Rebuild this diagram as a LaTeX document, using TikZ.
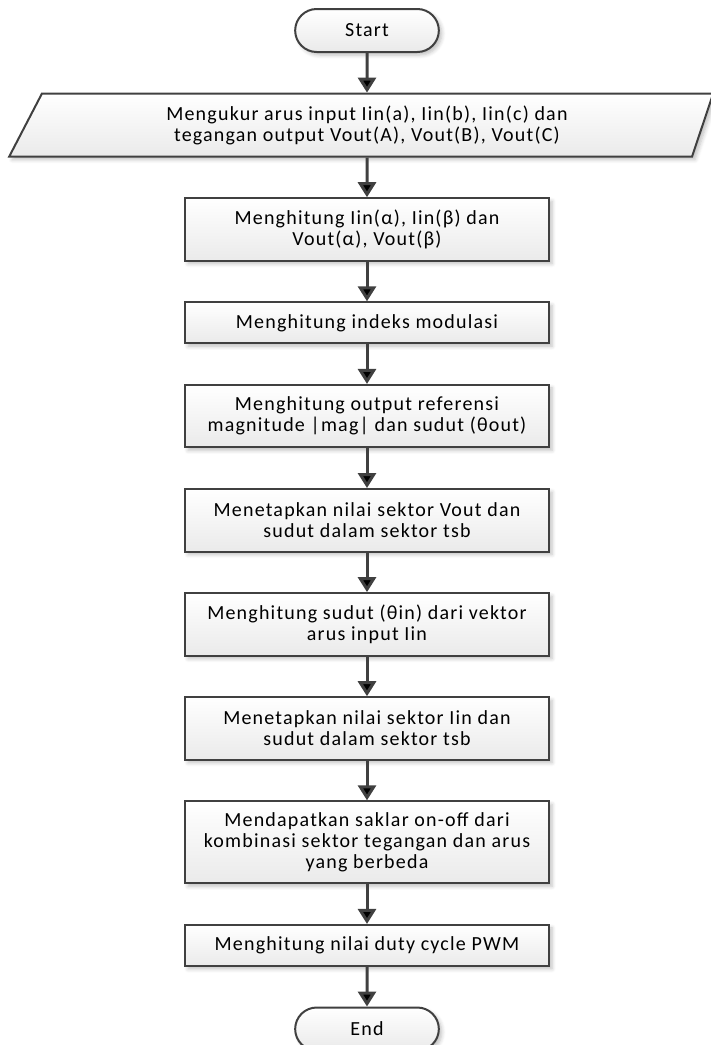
\documentclass[tikz,border=0pt]{standalone}
\usepackage{fontspec}
\setmainfont{Carlito}[LetterSpace=6]
\usetikzlibrary{positioning, arrows.meta, shapes.geometric, shapes.misc, shadows.blur}
\definecolor{garis}{HTML}{404040}
\definecolor{isi}{HTML}{EAEAEA}
\tikzset{
>={Triangle[width=9pt,length=7.5pt]}, % kepala panah yang tebal
node distance=19.8pt, % jarak antar kotak. Ubah bila perlu.
every node/.style={align=center, text=black, font=\fontsize{10}{10.5}\selectfont},
base/.style={draw=garis, line width=1pt, top color=white, bottom color=isi,
  blur shadow={shadow xshift=1.5pt, shadow yshift=-1.5pt, shadow blur steps=5, shadow opacity=25}}, % gaya dasar tiap kotak
terminal/.style={base, rounded rectangle, minimum width=78.5pt, minimum height=21.5pt},
proses/.style={base, rectangle, minimum width=182pt, minimum height=31.25pt, inner sep=2pt},
masukan/.style={base, trapezium, trapezium left angle=58, trapezium right angle=112,
  trapezium stretches body, minimum width=352pt, minimum height=31.5pt},
alur/.style={->, draw=garis, line width=1.5pt}, % panah antar kotak
}

\begin{document}
\begin{tikzpicture}
    \useasboundingbox (0,0) rectangle (355.5pt,-522.5pt);
    \node[terminal] (start) at (183.5pt,-15.25pt) {Start};
    \node[masukan, below=of start] (ukur) {Mengukur arus input Iin(a), Iin(b), Iin(c) dan\\tegangan output Vout(A), Vout(B), Vout(C)};
    \node[proses, below=of ukur] (alfabeta) {Menghitung Iin(α), Iin(β) dan\\Vout(α), Vout(β)};
    \node[proses, below=of alfabeta, minimum height=20.5pt] (indeks) {Menghitung indeks modulasi};
    \node[proses, below=of indeks] (referensi) {Menghitung output referensi\\magnitude |mag| dan sudut (θout)};
    \node[proses, below=of referensi] (sektorvout) {Menetapkan nilai sektor Vout dan\\sudut dalam sektor tsb};
    \node[proses, below=of sektorvout] (sudutin) {Menghitung sudut (θin) dari vektor\\arus input Iin};
    \node[proses, below=of sudutin] (sektoriin) {Menetapkan nilai sektor Iin dan\\sudut dalam sektor tsb};
    \node[proses, below=of sektoriin, minimum height=41pt] (saklar) {Mendapatkan saklar on-off dari\\kombinasi sektor tegangan dan arus\\yang berbeda};
    \node[proses, below=of saklar, minimum height=20.5pt] (duty) {Menghitung nilai duty cycle PWM};
    \node[terminal, below=of duty] (selesai) {End};
    \draw[alur]
    (start) edge (ukur)
    (ukur) edge (alfabeta)
    (alfabeta) edge (indeks)
    (indeks) edge (referensi)
    (referensi) edge (sektorvout)
    (sektorvout) edge (sudutin)
    (sudutin) edge (sektoriin)
    (sektoriin) edge (saklar)
    (saklar) edge (duty)
    (duty) edge (selesai);
\end{tikzpicture}
\end{document}
